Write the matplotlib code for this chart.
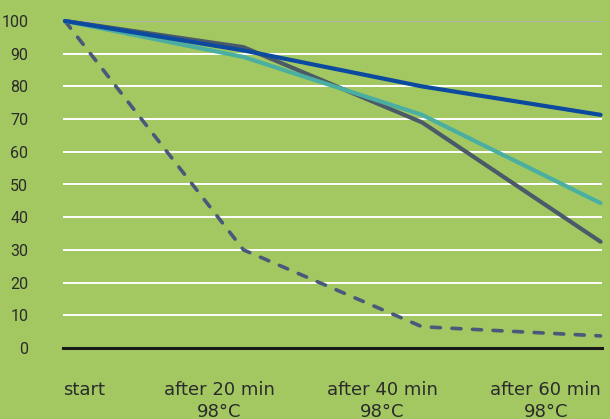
import numpy as np
import matplotlib
matplotlib.use('Agg')
import matplotlib.pyplot as plt

plt.rcParams['font.family'] = ['Roboto', 'DejaVu Sans']

BG = '#a3c862'
TXT = '#2b2b2b'

categories = ['start', 'after 20 min\n98°C', 'after 40 min\n98°C', 'after 60 min\n98°C']
series_blue = [100, 91, 80, 71.3]
series_teal = [100, 89, 71.3, 44.3]
series_gray = [100, 92, 69, 32.5]
series_dashed = [100, 30, 6.5, 3.7]

yticks = list(range(0, 101, 10))

fig = plt.figure(figsize=(6.10, 4.19), dpi=100, facecolor=BG)
ax = fig.add_axes([63/610, 1 - 348/419, 539/610, 327/419])
ax.set_facecolor(BG)

x = np.arange(len(categories))

# grid lines
for v in yticks[1:-1]:
    ax.axhline(v, color='white', lw=1.4, zorder=1)
ax.axhline(100, color='#b4b4b4', lw=1.4, zorder=1)
ax.axhline(0, color='#1a1a1a', lw=2.2, zorder=5, clip_on=False)

ax.plot(x, series_dashed, color='#48597a', lw=2.6, ls=(0, (2.5, 3.2)),
        dash_capstyle='round', zorder=3, clip_on=False)
ax.plot(x, series_gray, color='#4b5a68', lw=3.0, zorder=3, clip_on=False,
        solid_capstyle='round')
ax.plot(x, series_teal, color='#4aafa0', lw=3.0, zorder=3, clip_on=False,
        solid_capstyle='round')
ax.plot(x, series_blue, color='#0b4a9f', lw=3.0, zorder=4, clip_on=False,
        solid_capstyle='round')

ax.set_xlim(-0.011, 3.008)
ax.set_ylim(0, 100)

ax.set_yticks(yticks)
ax.set_yticklabels([str(v) for v in yticks])
ax.set_xticks([0.106, 0.866, 1.777, 2.693])
ax.set_xticklabels(categories, linespacing=1.3, family=['DejaVu Sans'])

ax.tick_params(axis='y', length=0, pad=25, labelsize=11.5, colors=TXT)
ax.tick_params(axis='x', length=0, pad=23.5, labelsize=13, colors=TXT)

for s in ax.spines.values():
    s.set_visible(False)

fig.savefig('out.png', dpi=100, facecolor=BG)
